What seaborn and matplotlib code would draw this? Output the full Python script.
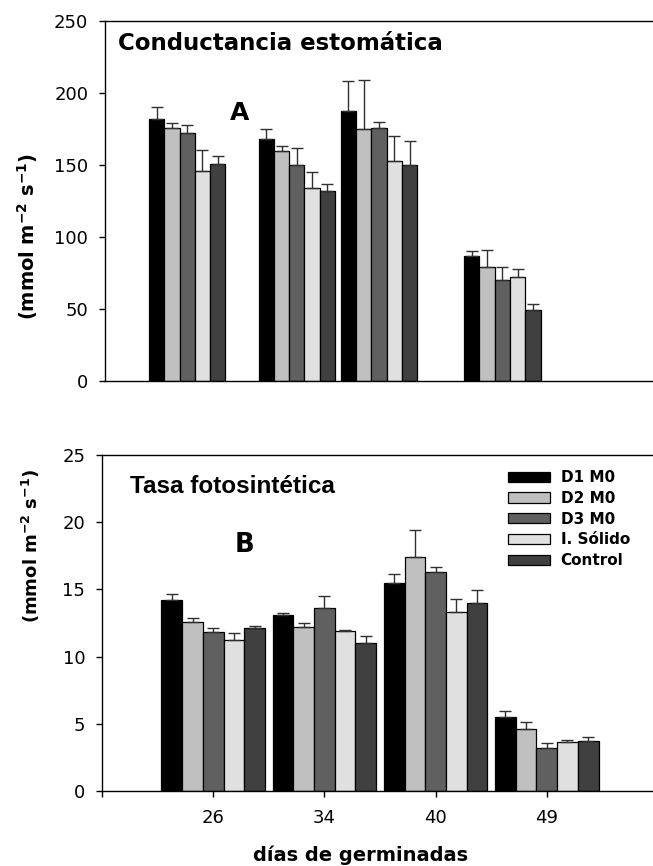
import numpy as np
import pandas as pd
import matplotlib
matplotlib.use("Agg")
import matplotlib.pyplot as plt
import seaborn as sns
from matplotlib.patches import Patch

# ---------------- data ----------------
days = [26, 34, 40, 49]
day_labels = ["26", "34", "40", "49"]
treatments = ["D1 M0", "D2 M0", "D3 M0", "I. Sólido", "Control"]
colors = ["#000000", "#c0c0c0", "#606060", "#e0e0e0", "#404040"]

# Conductancia estomática (mmol m-2 s-1)
cond_d1 = [182, 168, 187.5, 87]
cond_d2 = [176, 160, 175, 79]
cond_d3 = [172, 150, 176, 70]
cond_is = [146, 134, 153, 72]
cond_ctrl = [151, 132, 150, 49]
cond_err_d1 = [8, 7, 20.5, 3.5]
cond_err_d2 = [3, 3, 34, 12]
cond_err_d3 = [6, 12, 4, 9]
cond_err_is = [14.5, 11, 17, 6]
cond_err_ctrl = [5.5, 4.5, 17, 4.5]

# Tasa fotosintética
foto_d1 = [14.2, 13.1, 15.5, 5.5]
foto_d2 = [12.6, 12.2, 17.4, 4.6]
foto_d3 = [11.8, 13.6, 16.3, 3.2]
foto_is = [11.2, 11.9, 13.3, 3.65]
foto_ctrl = [12.1, 11.0, 14.0, 3.7]
foto_err_d1 = [0.45, 0.15, 0.65, 0.42]
foto_err_d2 = [0.28, 0.3, 2.05, 0.5]
foto_err_d3 = [0.35, 0.9, 0.37, 0.4]
foto_err_is = [0.55, 0.05, 0.95, 0.12]
foto_err_ctrl = [0.15, 0.52, 0.95, 0.32]

cond_vals = [cond_d1, cond_d2, cond_d3, cond_is, cond_ctrl]
cond_errs = [cond_err_d1, cond_err_d2, cond_err_d3, cond_err_is, cond_err_ctrl]
foto_vals = [foto_d1, foto_d2, foto_d3, foto_is, foto_ctrl]
foto_errs = [foto_err_d1, foto_err_d2, foto_err_d3, foto_err_is, foto_err_ctrl]


def long_df(vals, errs):
    rows = []
    for t, v, e in zip(treatments, vals, errs):
        for d, lab, vv, ee in zip(days, day_labels, v, e):
            rows.append({"day": d, "label": lab, "trat": t, "val": vv, "err": ee})
    return pd.DataFrame(rows)


df_cond = long_df(cond_vals, cond_errs)
df_foto = long_df(foto_vals, foto_errs)

# ---------------- style ----------------
sns.set_style("ticks")
plt.rcParams["font.family"] = ["DejaVu Sans"]
plt.rcParams["mathtext.fontset"] = "dejavusans"
for k in ["text.color", "axes.labelcolor", "xtick.color", "ytick.color", "axes.edgecolor"]:
    plt.rcParams[k] = "black"
plt.rcParams["axes.linewidth"] = 1.0
plt.rcParams["xtick.major.width"] = 1.0
plt.rcParams["ytick.major.width"] = 1.0

W, H = 653, 866
fig = plt.figure(figsize=(W / 100, H / 100), dpi=100)
ax1 = fig.add_axes([105 / W, 1 - 381 / H, 548 / W, 360 / H])
ax2 = fig.add_axes([102 / W, 1 - 791 / H, 551 / W, 336 / H])

bar_kw = dict(hue="trat", hue_order=treatments, palette=colors, errorbar=None,
              saturation=1, edgecolor="black", linewidth=0.9, legend=False)

# ---- top: numeric day axis ----
sns.barplot(data=df_cond, x="day", y="val", native_scale=True, width=0.93, ax=ax1, **bar_kw)
# ---- bottom: categorical axis ----
sns.barplot(data=df_foto, x="label", y="val", order=day_labels, width=0.93, ax=ax2, **bar_kw)


def add_err(ax, errs):
    for cont, err in zip(ax.containers, errs):
        patches = sorted(cont.patches, key=lambda p: p.get_x())
        xs = [p.get_x() + p.get_width() / 2 for p in patches]
        hs = [p.get_height() for p in patches]
        ax.errorbar(xs, hs, yerr=[np.zeros(len(err)), err], fmt="none",
                    ecolor="#303030", elinewidth=1.0, capsize=4, capthick=1.0, zorder=3)


add_err(ax1, cond_errs)
add_err(ax2, foto_errs)

# axes formatting
ax1.set_xlim(20, 60)
ax1.set_ylim(0, 250)
ax1.set_yticks([0, 50, 100, 150, 200, 250])
ax1.tick_params(axis="x", bottom=False, labelbottom=False)
ax1.set_xlabel("")

ax2.set_xlim(-1.0, 3.955)
ax2.set_ylim(0, 25)
ax2.set_yticks([0, 5, 10, 15, 20, 25])
ax2.set_xticks([-1, 0, 1, 2, 3])
ax2.set_xticklabels([""] + day_labels)

for ax in (ax1, ax2):
    ax.spines["right"].set_visible(False)
    ax.spines["top"].set_visible(True)
    ax.tick_params(axis="y", direction="out", length=4, pad=8, labelsize=13)
    ax.tick_params(axis="x", direction="out", length=4, pad=9, labelsize=13)

ylab = r"$\mathbf{(mmol\ m^{-2}\ s^{-1})}$"
ax1.set_ylabel(ylab, fontsize=14)
ax1.yaxis.set_label_coords(-0.118, 0.40)
ax2.set_ylabel(ylab, fontsize=13)
ax2.yaxis.set_label_coords(-0.108, 0.73)

ax2.set_xlabel("días de germinadas", fontsize=14, fontweight="bold")
ax2.xaxis.set_label_coords(0.47, -0.163)

ax1.text(0.024, 0.919, "Conductancia estomática", transform=ax1.transAxes,
         fontsize=16.5, fontweight="bold", ha="left", va="baseline")
ax1.text(0.228, 0.725, "A", transform=ax1.transAxes,
         fontsize=18, fontweight="bold", ha="left", va="baseline")
ax2.text(0.051, 0.887, "Tasa fotosintética", transform=ax2.transAxes,
         fontsize=17.5, fontweight="bold", ha="left", va="baseline",
         family=["Liberation Sans", "DejaVu Sans"])
ax2.text(0.241, 0.711, "B", transform=ax2.transAxes,
         fontsize=18.5, fontweight="bold", ha="left", va="baseline")

handles = [Patch(facecolor=c, edgecolor="black", linewidth=0.9, label=t)
           for c, t in zip(colors, treatments)]
leg = ax2.legend(handles=handles, loc="upper left", bbox_to_anchor=(508 / W, 1 - 470 / H),
                 bbox_transform=fig.transFigure, frameon=False, fontsize=11,
                 handlelength=2.75, handleheight=0.65, handletextpad=0.7,
                 labelspacing=0.38, borderpad=0, borderaxespad=0)
for t in leg.get_texts():
    t.set_fontweight("bold")

fig.savefig("out.png", dpi=100)
